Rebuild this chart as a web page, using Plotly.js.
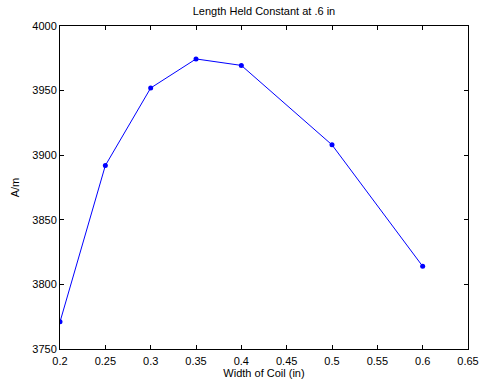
<!DOCTYPE html>
<html>
<head>
<meta charset="utf-8">
<script src="https://cdn.plot.ly/plotly-3.0.1.min.js"></script>
<style>html,body{margin:0;padding:0;background:#fff;}#chart{width:482px;height:385px;}</style>
</head>
<body>
<div id="chart"></div>
<script>
var widths = [0.2, 0.25, 0.3, 0.35, 0.4, 0.5, 0.6];
var fieldValues = [3771, 3892, 3952, 3974.5, 3969.5, 3908, 3814];
var xTicks = [0.2, 0.25, 0.3, 0.35, 0.4, 0.45, 0.5, 0.55, 0.6, 0.65];
var xTickLabels = ['0.2', '0.25', '0.3', '0.35', '0.4', '0.45', '0.5', '0.55', '0.6', '0.65'];
var yTicks = [3750, 3800, 3850, 3900, 3950, 4000];
var yTickLabels = ['3750', '3800', '3850', '3900', '3950', '4000'];

var font = {family: 'Liberation Sans, Arial, sans-serif', size: 11, color: '#000'};

var trace = {
  x: widths, y: fieldValues, type: 'scatter', mode: 'lines+markers',
  line: {color: '#0000ff', width: 1},
  marker: {color: '#0000ff', size: 5, symbol: 'circle'},
  hoverinfo: 'none'
};

var axisCommon = {
  showgrid: false, zeroline: false, showline: true, linecolor: '#000', linewidth: 1,
  mirror: 'ticks', ticks: 'inside', ticklen: 4, tickcolor: '#000', tickwidth: 1,
  tickfont: font, tickmode: 'array'
};

var layout = {
  width: 482, height: 385,
  margin: {l: 60, r: 14, t: 26, b: 36},
  paper_bgcolor: '#fff', plot_bgcolor: '#fff',
  showlegend: false,
  font: font,
  title: {text: 'Length Held Constant at .6 in', font: font, x: 0.5, xanchor: 'center', y: 0.972, yanchor: 'middle', xref: 'paper'},
  xaxis: Object.assign({}, axisCommon, {
    range: [0.2, 0.65], tickvals: xTicks, ticktext: xTickLabels,
    ticklabelstandoff: 2,
    title: {text: 'Width of Coil (in)', font: font, standoff: 3}
  }),
  yaxis: Object.assign({}, axisCommon, {
    range: [3750, 4000], tickvals: yTicks, ticktext: yTickLabels,
    title: {text: 'A/m', font: font, standoff: 10}
  })
};

Plotly.newPlot('chart', [trace], layout, {staticPlot: true, displayModeBar: false});
</script>
</body>
</html>
